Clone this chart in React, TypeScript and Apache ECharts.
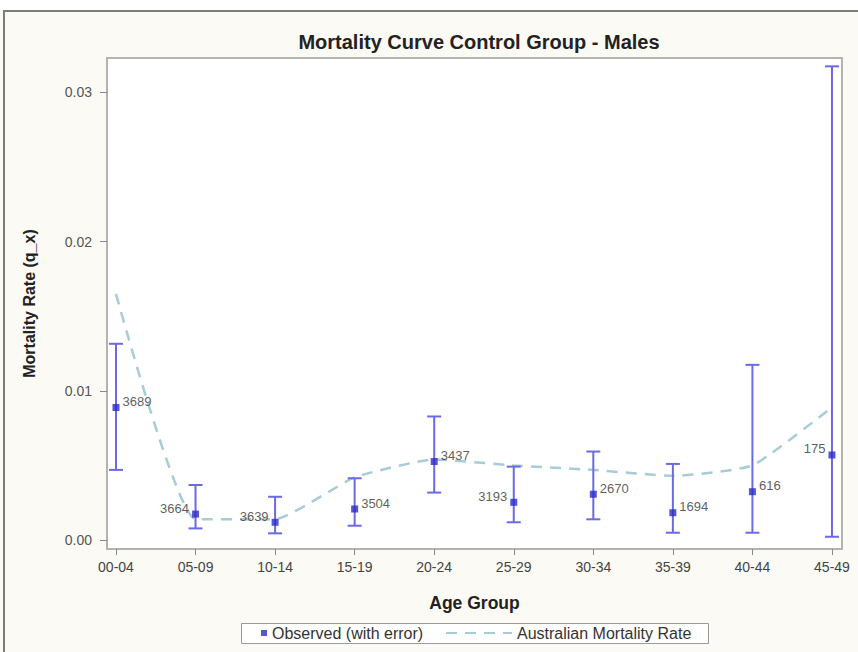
import React, { useEffect, useRef } from "react";
import * as echarts from "echarts";

const ageGroups = ["00-04", "05-09", "10-14", "15-19", "20-24", "25-29", "30-34", "35-39", "40-44", "45-49"];
const observed = [0.00888, 0.00174, 0.00119, 0.00208, 0.00526, 0.00253, 0.00307, 0.00183, 0.00324, 0.0057];
const lower = [0.0047, 0.00078, 0.00045, 0.00096, 0.00318, 0.00119, 0.00139, 0.00049, 0.00049, 0.00022];
const upper = [0.01315, 0.00369, 0.0029, 0.00414, 0.00828, 0.00492, 0.00593, 0.0051, 0.01174, 0.03174];
const counts = ["3689", "3664", "3639", "3504", "3437", "3193", "2670", "1694", "616", "175"];
const labelSide = ["right", "left", "left", "right", "right", "left", "right", "right", "right", "left"];
const australian = [0.0165, 0.0014, 0.0014, 0.0042, 0.0054, 0.005, 0.0047, 0.0043, 0.005, 0.0089];
const yTicks = [0, 0.01, 0.02, 0.03];

const FONT = "'Liberation Sans', Arial, sans-serif";

export default function App() {
  const ref = useRef<HTMLDivElement>(null);
  useEffect(() => {
    if (!ref.current) return;
    const chart = echarts.init(ref.current, null, { renderer: "svg" });
    const errData = ageGroups.map((_, i) => [i, lower[i], upper[i]]);
    const obsData = ageGroups.map((_, i) => ({
      value: [i, observed[i]],
      label: { position: labelSide[i], offset: [0, -6] },
    }));
    const ausData = ageGroups.map((_, i) => [i, australian[i]]);
    chart.setOption({
      animation: false,
      backgroundColor: "#fcfaf5",
      textStyle: { fontFamily: FONT },
      title: {
        text: "Mortality Curve Control Group - Males",
        left: 474,
        top: 27,
        textAlign: "center",
        textStyle: { fontFamily: FONT, fontSize: 20, fontWeight: "bold", color: "#222" },
      },
      graphic: [
        { type: "rect", shape: { x: 0, y: 0, width: 858, height: 10 }, style: { fill: "#ffffff" }, silent: true },
        { type: "line", shape: { x1: 3, y1: 11, x2: 858, y2: 11 }, style: { stroke: "#7c7c7c", lineWidth: 2 }, silent: true },
        { type: "line", shape: { x1: 4, y1: 10, x2: 4, y2: 652 }, style: { stroke: "#7c7c7c", lineWidth: 2 }, silent: true },
        { type: "rect", shape: { x: 241.5, y: 623.5, width: 467, height: 20 }, style: { fill: "#ffffff", stroke: "#9a9a9a", lineWidth: 1 }, silent: true, z: -1 },
      ],
      legend: [
        {
          data: ["Observed (with error)"],
          left: 261,
          top: 625,
          itemWidth: 6,
          itemHeight: 6,
          itemGap: 10,
          icon: "rect",
          textStyle: { fontFamily: FONT, fontSize: 16, color: "#333" },
          padding: 0,
        },
        {
          data: ["Australian Mortality Rate"],
          left: 445,
          top: 625,
          itemWidth: 66,
          itemHeight: 14,
          itemGap: 10,
          itemStyle: { opacity: 0 },
          textStyle: { fontFamily: FONT, fontSize: 16, color: "#333" },
          padding: 0,
        },
      ],
      grid: {
        left: 107,
        top: 58,
        right: 16,
        bottom: 103,
        show: true,
        backgroundColor: "#ffffff",
        borderColor: "#b4b4ac",
        borderWidth: 2,
      },
      xAxis: {
        type: "value",
        min: -0.113,
        max: 9.126,
        name: "Age Group",
        nameLocation: "middle",
        nameGap: 45,
        nameTextStyle: { fontFamily: FONT, fontSize: 17.5, fontWeight: "bold", color: "#222" },
        axisLine: { show: true, onZero: false, lineStyle: { color: "#b4b4ac", width: 2 } },
        axisTick: { show: true, customValues: ageGroups.map((_, i) => i), length: 6, lineStyle: { color: "#888" } },
        axisLabel: {
          customValues: ageGroups.map((_, i) => i),
          formatter: (v: number) => ageGroups[Math.round(v)] ?? "",
          margin: 11,
          fontFamily: FONT,
          fontSize: 14,
          color: "#444",
        },
        splitLine: { show: false },
      },
      yAxis: {
        type: "value",
        min: -0.0006,
        max: 0.0323,
        name: "Mortality Rate (q_x)",
        nameLocation: "middle",
        nameGap: 70,
        nameTextStyle: { fontFamily: FONT, fontSize: 16, fontWeight: "bold", color: "#222" },
        axisLine: { show: true, onZero: false, lineStyle: { color: "#b4b4ac", width: 2 } },
        axisTick: { show: true, customValues: yTicks, length: 7, lineStyle: { color: "#888" } },
        axisLabel: {
          customValues: yTicks,
          formatter: (v: number) => v.toFixed(2),
          margin: 15,
          fontFamily: FONT,
          fontSize: 14,
          color: "#555",
        },
        splitLine: { show: false },
      },
      series: [
        {
          name: "Australian Mortality Rate",
          type: "line",
          data: ausData,
          smooth: 0.15,
          symbol: "none",
          z: 1,
          lineStyle: { color: "#a8ccd6", width: 2.5, type: [11, 8] },
          itemStyle: { color: "#a8ccd6" },
        },
        {
          name: "errorbars",
          type: "custom",
          data: errData,
          z: 2,
          renderItem: (params: any, api: any) => {
            const x = api.value(0);
            const lo = api.coord([x, api.value(1)]);
            const hi = api.coord([x, api.value(2)]);
            const hw = 7;
            const style = { stroke: "#6a6ae2", lineWidth: 2 };
            return {
              type: "group",
              children: [
                { type: "line", shape: { x1: lo[0], y1: lo[1], x2: hi[0], y2: hi[1] }, style },
                { type: "line", shape: { x1: lo[0] - hw, y1: lo[1], x2: lo[0] + hw, y2: lo[1] }, style },
                { type: "line", shape: { x1: hi[0] - hw, y1: hi[1], x2: hi[0] + hw, y2: hi[1] }, style },
              ],
            };
          },
        },
        {
          name: "Observed (with error)",
          type: "scatter",
          data: obsData,
          symbol: "rect",
          symbolSize: 7,
          z: 3,
          itemStyle: { color: "#2a2ac8" },
          label: {
            show: true,
            formatter: (p: any) => counts[p.dataIndex],
            fontFamily: FONT,
            fontSize: 13,
            color: "#333",
            distance: 3,
          },
        },
      ],
    });
    return () => chart.dispose();
  }, []);
  return <div ref={ref} style={{ position: "fixed", left: 0, top: 0, width: 858, height: 652 }} />;
}
